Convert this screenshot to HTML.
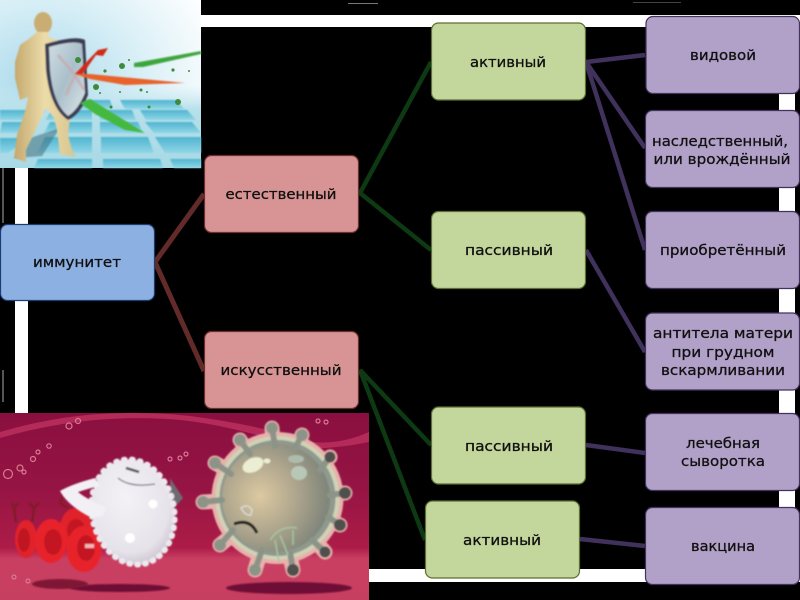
<!DOCTYPE html>
<html><head><meta charset="utf-8"><style>
html,body{margin:0;padding:0;background:#000;width:800px;height:600px;overflow:hidden}
svg{display:block}
text{font-family:"DejaVu Sans","Liberation Sans",sans-serif;font-size:14.5px;fill:#111;stroke:#111;stroke-width:.3;text-anchor:middle}
</style></head><body>
<svg width="800" height="600" viewBox="0 0 800 600" xmlns="http://www.w3.org/2000/svg">
<defs>
<filter id="b1"><feGaussianBlur stdDeviation="0.7"/></filter>
<filter id="b3"><feGaussianBlur stdDeviation="4"/></filter>
<linearGradient id="floor" x1="0" y1="0" x2="0" y2="1"><stop offset="0" stop-color="#c8e8f0" stop-opacity="0"/><stop offset=".3" stop-color="#b6e0ea"/><stop offset="1" stop-color="#a8d9e6"/></linearGradient>
<radialGradient id="glow" cx="0.2" cy="0.5" r="0.95"><stop offset="0" stop-color="#a9d9ea"/><stop offset=".5" stop-color="#d6eef6"/><stop offset="1" stop-color="#ffffff"/></radialGradient>
<linearGradient id="tile" x1="0" y1="0" x2="0" y2="1"><stop offset="0" stop-color="#4fb4d0"/><stop offset="1" stop-color="#8fd6e6"/></linearGradient>
<linearGradient id="skin" x1="0" y1="0" x2="1" y2="0"><stop offset="0" stop-color="#c4a86c"/><stop offset=".5" stop-color="#ecdcaa"/><stop offset="1" stop-color="#d8c48c"/></linearGradient>
<linearGradient id="shield" x1="0" y1="0" x2="1" y2="1"><stop offset="0" stop-color="#cfdde2"/><stop offset=".5" stop-color="#a9bfca"/><stop offset="1" stop-color="#dfe6ea"/></linearGradient>
<linearGradient id="bg2" x1="0" y1="0" x2="0" y2="1"><stop offset="0" stop-color="#8a0f40"/><stop offset=".4" stop-color="#951443"/><stop offset=".72" stop-color="#ad1c48"/><stop offset=".78" stop-color="#c93f62"/><stop offset="1" stop-color="#c73f60"/></linearGradient>
<radialGradient id="virus" cx=".35" cy=".48" r=".72"><stop offset="0" stop-color="#dcc9a0"/><stop offset=".5" stop-color="#aba38c"/><stop offset="1" stop-color="#727c74"/></radialGradient>
<radialGradient id="wbc" cx=".45" cy=".35" r=".75"><stop offset="0" stop-color="#f4f2f6"/><stop offset=".7" stop-color="#e6e2ea"/><stop offset="1" stop-color="#b8b0bc"/></radialGradient>
</defs>

<!-- background frame -->
<rect width="800" height="600" fill="#000"/>
<rect x="199" y="15" width="601" height="12" fill="#fff"/>
<rect x="15" y="160" width="13" height="260" fill="#fff"/>
<rect x="779" y="20" width="16" height="560" fill="#fff"/>
<rect x="360" y="569" width="440" height="13" fill="#fff"/>
<rect x="2" y="168" width="2" height="55" fill="#555"/>
<rect x="2" y="370" width="2" height="32" fill="#555"/>
<rect x="348" y="3" width="30" height="1" fill="#777"/>
<rect x="633" y="2" width="48" height="1" fill="#444"/>

<!-- top-left picture -->
<g>
<rect x="0" y="0" width="201" height="168" fill="url(#glow)"/>
<rect x="0" y="85" width="201" height="83" fill="url(#floor)"/>
<g fill="url(#tile)" filter="url(#b1)">
<polygon points="120,100 176,100 184,109 125,109"/>
<polygon points="60,100 110,100 113,109 55,109"/>
<polygon points="0,110 45,110 35,120 0,120"/>
<polygon points="52,110 92,110 92,120 45,120"/>
<polygon points="100,110 132,110 136,120 100,120"/>
<polygon points="140,110 187,110 196,120 146,120"/>
<polygon points="2,122 36,122 18,133 0,133"/>
<polygon points="50,122 92,122 92,133 44,133"/>
<polygon points="100,122 138,122 143,133 100,133"/>
<polygon points="145,122 192,122 201,133 154,133"/>
<polygon points="0,138 30,138 8,153 0,153"/>
<polygon points="45,137 92,137 92,153 37,153"/>
<polygon points="101,137 148,137 154,153 101,153"/>
<polygon points="155,137 201,137 201,153 165,153"/>
<polygon points="38,159 92,159 92,168 34,168"/>
<polygon points="103,159 160,159 163,168 103,168"/>
<polygon points="170,159 201,159 201,168 174,168"/>
</g>
<polygon points="30,138 60,128 42,156 14,158" fill="#3f6f7e" opacity=".55" filter="url(#b1)"/>
<g filter="url(#b1)">
<ellipse cx="43" cy="23" rx="9" ry="11" fill="#c9ad73"/>
<path d="M37,32 L48,32 L50,38 L62,42 L64,100 L70,118 L68,135 L72,150 L76,157 L60,154 L57,130 L54,118 L46,108 L38,125 L26,150 L26,162 L14,158 L17,135 L26,108 L28,98 L26,82 L27,90 L28,97 L20,100 L15,78 L15,62 L20,45 L30,38 Z" fill="url(#skin)"/>
<path d="M45,44 Q76,35 85,40 L88,95 Q80,115 68,120 Q50,108 46,70 Z" fill="#3d3d52"/>
<path d="M49,47 Q74,40 82,44 L85,93 Q78,110 68,116 Q53,104 50,70 Z" fill="url(#shield)"/>
<path d="M58,55 L75,75 L66,95 M75,75 L84,90" stroke="#c9a8ac" stroke-width="3" fill="none" opacity=".7"/>
</g>
<g filter="url(#b1)">
<polygon points="75,74 98,50 108,48 103,56 96,55 82,75" fill="#d22b12"/>
<polygon points="75,74 90,74 185,83 125,85 90,79" fill="#e8622a"/>
<polygon points="134,63 201,51 201,54 143,67 134,67" fill="#3ca53c"/>
<polygon points="80,103 90,99 145,133 125,130 95,114" fill="#45b83f"/>
</g>
<g fill="#3f8a3a"><circle cx="78" cy="60" r="3"/><circle cx="122" cy="66" r="3"/><circle cx="105" cy="71" r="1.6"/><circle cx="129" cy="60" r="1"/><circle cx="173" cy="70" r="1.6"/><circle cx="189" cy="71" r="1"/><circle cx="96" cy="87" r="3"/><circle cx="100" cy="93" r="1"/><circle cx="120" cy="92" r="1"/><circle cx="141" cy="90" r="1.5"/><circle cx="147" cy="92" r="1"/><circle cx="178" cy="102" r="3"/><circle cx="111" cy="107" r="1.5"/><circle cx="149" cy="107" r="1.5"/></g>
</g>

<!-- bottom-left picture -->
<g>
<rect x="0" y="413" width="369" height="187" fill="url(#bg2)"/>
<path d="M0,432 Q90,405 190,416 Q260,425 310,442 Q340,445 369,432 L369,442 Q330,450 300,448 Q230,425 180,420 Q90,412 0,438 Z" fill="#b42a58"/>
<ellipse cx="120" cy="588" rx="50" ry="4" fill="#6e0f34" filter="url(#b1)"/>
<ellipse cx="60" cy="584" rx="28" ry="5" fill="#7f1436" filter="url(#b1)"/>
<ellipse cx="289" cy="588" rx="63" ry="6" fill="#6e0f34" filter="url(#b1)"/>
<g fill="none" stroke="#d97a92" stroke-width="1.2"><circle cx="8" cy="474" r="4.5"/><circle cx="20" cy="468" r="3"/><circle cx="24" cy="472" r="2"/><circle cx="33" cy="459" r="2.5"/><circle cx="38" cy="452" r="2"/><circle cx="49" cy="446" r="2.2"/><circle cx="69" cy="426" r="3"/><circle cx="78" cy="421" r="2.5"/><circle cx="170" cy="459" r="2"/><circle cx="180" cy="458" r="2"/><circle cx="186" cy="454" r="2"/><circle cx="318" cy="421" r="2"/><circle cx="326" cy="422" r="2"/><circle cx="14" cy="577" r="2"/><circle cx="28" cy="581" r="2"/></g>

<!-- red cells -->
<g filter="url(#b1)">
<path d="M16,522 L14,508 M14,508 L12,503 M14,508 L18,503 M32,522 L34,508 M34,508 L29,503 M34,508 L39,503 M68,508 L60,503 M60,503 L62,497" stroke="#7c1d22" stroke-width="2" fill="none"/>
<ellipse cx="26" cy="539" rx="11" ry="19" fill="#e0202a"/><ellipse cx="24" cy="540" rx="6" ry="12" fill="#bf1622"/>
<ellipse cx="76" cy="528" rx="16" ry="20" fill="#e0202a"/><ellipse cx="76" cy="530" rx="9" ry="11" fill="#c41824"/>
<ellipse cx="51" cy="541" rx="16" ry="22" fill="#e8242c"/><ellipse cx="53" cy="542" rx="9" ry="13" fill="#c41824"/>
<ellipse cx="84" cy="549" rx="17.500" ry="23" fill="#e8242c"/><ellipse cx="86" cy="548" rx="9" ry="13" fill="#c41824"/>
<rect x="85" y="544" width="9" height="4" fill="#f4b4b8"/>
</g>

<!-- white cell -->
<g filter="url(#b1)">
<path d="M170,478 L183,498 L172,510 Z" fill="#6e6a72"/>
<ellipse cx="133" cy="512" rx="41" ry="53" fill="url(#wbc)" stroke="#ebe8ee" stroke-width="6" stroke-linecap="round" stroke-dasharray="1 7" transform="rotate(-12 133 512)"/>
<path d="M95,478 Q72,484 60,491 Q68,506 92,518 L103,516 L106,508 Q85,498 78,492 Q90,488 100,486 Z" fill="#f2f0f4"/>
<path d="M118,478 Q130,488 155,484" stroke="#7d7a88" stroke-width="1.3" fill="none"/>
<path d="M126,468 L139,472" stroke="#555" stroke-width="2.5"/>
<circle cx="153" cy="504" r="4.500" fill="#fff"/><circle cx="130" cy="538" r="5" fill="#fff"/>
</g>

<!-- virus -->
<g filter="url(#b1)">
<g stroke="#e6b2ac" stroke-width="15" stroke-linecap="round">
<path d="M277,498 L272,428 M277,498 L240,440 M277,498 L302,435 M277,498 L215,463 M277,498 L330,457 M277,498 L203,502 M277,498 L345,493 M277,498 L220,545 M277,498 L340,525 M277,498 L255,570 M277,498 L293,570 M277,498 L325,552"/>
</g>
<circle cx="277.500" cy="498" r="66" fill="#e6b2ac"/>
<circle cx="277.500" cy="498" r="62" fill="#d0d2b6"/>
<circle cx="277.500" cy="498" r="58" fill="#8f998e"/>
<circle cx="276" cy="498" r="54" fill="url(#virus)"/>
<g stroke="#8c9488" stroke-width="6" stroke-linecap="round" fill="none">
<path d="M275,446 L272,428 M250,454 L240,440 M295,448 L302,435 M231,474 L215,463 M320,470 L330,457 M222,500 L203,502 M330,495 L345,493 M233,530 L220,545 M328,517 L340,525 M262,550 L255,570 M290,552 L293,570 M312,540 L325,552"/>
</g>
<g fill="#4f4f4e"><circle cx="330" cy="457" r="5.500"/><circle cx="345" cy="493" r="6"/><circle cx="340" cy="525" r="6"/><circle cx="325" cy="552" r="5.500"/><circle cx="293" cy="570" r="6"/></g>
<g fill="#8c9488"><circle cx="272" cy="428" r="6"/><circle cx="240" cy="440" r="6"/><circle cx="302" cy="435" r="6"/><circle cx="215" cy="463" r="6"/><circle cx="203" cy="502" r="6"/><circle cx="220" cy="545" r="6"/><circle cx="255" cy="570" r="6"/></g>
<ellipse cx="253" cy="465" rx="11" ry="7" fill="#ebeed2" transform="rotate(-25 253 465)"/>
<ellipse cx="267" cy="461" rx="3.500" ry="2.500" fill="#ebeed2"/>
<ellipse cx="296" cy="459" rx="8" ry="4" fill="#aebcae"/>
<ellipse cx="299" cy="473" rx="8" ry="7" fill="#b8c8b8"/>
<path d="M234,524 Q250,518 257,533" stroke="#222" stroke-width="3" fill="none"/>
<path d="M241,508 Q248,503 252,510 L251,515 Q245,516 241,508 Z" fill="none" stroke="#ddd" stroke-width="1.3"/>
<path d="M270,540 Q280,525 297,528 M280,535 L288,555 M293,530 L293,545 M275,540 L279,562" stroke="#a4c8a0" stroke-width="1.4" fill="none"/>
</g>
</g>

<!-- connectors -->
<g fill="none" stroke-linejoin="miter">
<path d="M204,194 L155,262 L204,371" stroke="#632a2a" stroke-width="5"/>
<path d="M431,62 L360,193 L431,250" stroke="#0d3a12" stroke-width="4.500"/>
<path d="M431,445 L360,370 L425,540" stroke="#0d3a12" stroke-width="4.500"/>
<path d="M645,55 L586,62 L645,148" stroke="#40325c" stroke-width="4.500"/>
<path d="M586,62 L645,250" stroke="#40325c" stroke-width="4.500"/>
<path d="M586,250 L645,352" stroke="#40325c" stroke-width="4.500"/>
<path d="M586,445 L645,453" stroke="#40325c" stroke-width="4.500"/>
<path d="M580,539 L645,546" stroke="#40325c" stroke-width="4.500"/>
</g>

<!-- nodes -->
<rect x="0.500" y="224.500" width="154" height="76" rx="7" fill="#8db0e2" stroke="#1c3c72" stroke-width="1.200"/>
<g fill="#d89494" stroke="#6d2f2d" stroke-width="1.200">
<rect x="204.500" y="155.500" width="154" height="77" rx="7"/>
<rect x="204.500" y="331.500" width="154" height="77" rx="7"/>
</g>
<g fill="#c3d69b" stroke="#5c6e32" stroke-width="1.200">
<rect x="431.500" y="23" width="154" height="77" rx="7"/>
<rect x="431.500" y="211.500" width="154" height="77" rx="7"/>
<rect x="431.500" y="407" width="154" height="77" rx="7"/>
<rect x="425.500" y="501" width="154" height="77" rx="7"/>
</g>
<g fill="#b1a0c7" stroke="#41335c" stroke-width="1.200">
<rect x="646" y="16.500" width="153.500" height="77" rx="7"/>
<rect x="645.500" y="110.500" width="154" height="77" rx="7"/>
<rect x="645.500" y="211.500" width="154" height="77" rx="7"/>
<rect x="645.500" y="313" width="154" height="77" rx="7"/>
<rect x="645.500" y="413.500" width="154" height="77" rx="7"/>
<rect x="645.500" y="507.500" width="154" height="77" rx="7"/>
</g>

<!-- labels -->
<text x="77" y="267" textLength="88" lengthAdjust="spacingAndGlyphs">иммунитет</text>
<text x="281" y="199" textLength="111" lengthAdjust="spacingAndGlyphs">естественный</text>
<text x="281" y="375" textLength="121" lengthAdjust="spacingAndGlyphs">искусственный</text>
<text x="508" y="67" textLength="76" lengthAdjust="spacingAndGlyphs">активный</text>
<text x="509" y="255" textLength="88" lengthAdjust="spacingAndGlyphs">пассивный</text>
<text x="509" y="451" textLength="88" lengthAdjust="spacingAndGlyphs">пассивный</text>
<text x="502" y="545" textLength="78" lengthAdjust="spacingAndGlyphs">активный</text>
<text x="723" y="60" textLength="66" lengthAdjust="spacingAndGlyphs">видовой</text>
<text x="720" y="146" textLength="136" lengthAdjust="spacingAndGlyphs">наследственный,</text>
<text x="722" y="164" textLength="137" lengthAdjust="spacingAndGlyphs">или врождённый</text>
<text x="723" y="255" textLength="126" lengthAdjust="spacingAndGlyphs">приобретённый</text>
<text x="723" y="338" textLength="140" lengthAdjust="spacingAndGlyphs">антитела матери</text>
<text x="723" y="357" textLength="103" lengthAdjust="spacingAndGlyphs">при грудном</text>
<text x="723" y="375" textLength="124" lengthAdjust="spacingAndGlyphs">вскармливании</text>
<text x="723" y="448" textLength="74" lengthAdjust="spacingAndGlyphs">лечебная</text>
<text x="723" y="466" textLength="84" lengthAdjust="spacingAndGlyphs">сыворотка</text>
<text x="723" y="551" textLength="64" lengthAdjust="spacingAndGlyphs">вакцина</text>
</svg>
</body></html>
